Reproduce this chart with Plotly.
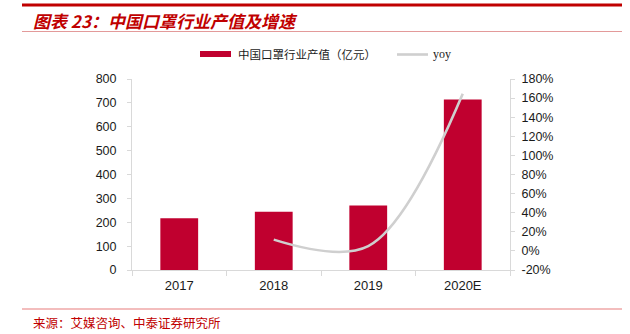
import plotly.graph_objects as go

categories = ["2017", "2018", "2019", "2020E"]
output_value = [217, 244, 270, 714]          # 中国口罩行业产值（亿元）
yoy_years = ["2018", "2019", "2020E"]
yoy = [0.118, 0.05, 1.645]
left_ticks = [0, 100, 200, 300, 400, 500, 600, 700, 800]
right_ticks = [-0.2, 0, 0.2, 0.4, 0.6, 0.8, 1.0, 1.2, 1.4, 1.6, 1.8]
right_labels = ["-20%", "0%", "20%", "40%", "60%", "80%", "100%", "120%", "140%", "160%", "180%"]

BAR = "#C0002F"
LINE = "#CFCFCF"
AX = "#D9D9D9"
TXT = "#1a1a1a"
CJK = "Noto Sans CJK SC"
LAT = "Liberation Sans, Arial"

fig = go.Figure()
fig.add_trace(go.Bar(x=categories, y=output_value, marker=dict(color=BAR, line=dict(width=0)),
                     width=0.4, name="中国口罩行业产值（亿元）", showlegend=False))
fig.add_trace(go.Scatter(x=yoy_years, y=yoy, mode="lines", yaxis="y2",
                         line=dict(color=LINE, width=2.6, shape="spline", smoothing=1.0),
                         name="yoy", showlegend=False))

fig.update_layout(
    width=630, height=334,
    margin=dict(l=132, r=120, t=79, b=64),
    paper_bgcolor="white", plot_bgcolor="white",
    xaxis=dict(type="category", categoryorder="array", categoryarray=categories,
               showline=True, linecolor=AX, linewidth=1,
               ticks="outside", tickson="boundaries", ticklen=5, tickcolor=AX,
               tickfont=dict(family=LAT, size=13, color=TXT), showgrid=False, zeroline=False,
               ticklabelstandoff=3),
    yaxis=dict(range=[0, 800], tickvals=left_ticks, showline=True, linecolor=AX, linewidth=1,
               ticks="outside", ticklen=4, tickcolor=AX, showgrid=False, zeroline=False,
               tickfont=dict(family=LAT, size=12.5, color=TXT), ticklabelstandoff=8),
    yaxis2=dict(range=[-0.2, 1.8], tickvals=right_ticks, ticktext=right_labels, overlaying="y",
                side="right", showline=True, linecolor=AX, linewidth=1,
                ticks="outside", ticklen=4, tickcolor=AX, showgrid=False, zeroline=False,
                tickfont=dict(family=LAT, size=12.5, color=TXT), ticklabelstandoff=4),
    bargap=0.6,
)

shapes = [
    dict(type="line", xref="paper", yref="paper", x0=-110/378, x1=490/378,
         y0=1 + (79 - 5) / 191, y1=1 + (79 - 5) / 191, line=dict(color="#C00000", width=3)),
    dict(type="line", xref="paper", yref="paper", x0=-110/378, x1=490/378,
         y0=1 + (79 - 31.5) / 191, y1=1 + (79 - 31.5) / 191, line=dict(color="#E39A9A", width=1)),
    dict(type="line", xref="paper", yref="paper", x0=-110/378, x1=490/378,
         y0=-(309 - 270) / 191, y1=-(309 - 270) / 191, line=dict(color="#F3BDBD", width=2)),
    # legend keys
    dict(type="rect", xref="paper", yref="paper", x0=(200 - 132) / 378, x1=(231 - 132) / 378,
         y0=1 + (79 - 57) / 191, y1=1 + (79 - 51) / 191, fillcolor=BAR, line=dict(width=0)),
    dict(type="line", xref="paper", yref="paper", x0=(397 - 132) / 378, x1=(428 - 132) / 378,
         y0=1 + (79 - 54.5) / 191, y1=1 + (79 - 54.5) / 191, line=dict(color=LINE, width=2.6)),
]

annotations = [
    dict(text="<b><i>图表 23：中国口罩行业产值及增速</i></b>", xref="paper", yref="paper",
         x=(31 - 132) / 378, y=1 + (79 - 20) / 191, xanchor="left", yanchor="middle",
         showarrow=False, font=dict(family=CJK, size=17, color="#C00000")),
    dict(text="中国口罩行业产值（亿元）", xref="paper", yref="paper",
         x=(236 - 132) / 378, y=1 + (79 - 54) / 191, xanchor="left", yanchor="middle",
         showarrow=False, font=dict(family=CJK, size=11.5, color=TXT)),
    dict(text="yoy", xref="paper", yref="paper",
         x=(431 - 132) / 378, y=1 + (79 - 54) / 191, xanchor="left", yanchor="middle",
         showarrow=False, font=dict(family="Liberation Serif, Times New Roman", size=12, color=TXT)),
    dict(text="来源：艾媒咨询、中泰证券研究所", xref="paper", yref="paper",
         x=(31 - 132) / 378, y=-(322 - 270) / 191, xanchor="left", yanchor="middle",
         showarrow=False, font=dict(family=CJK, size=12.5, color="#C00000")),
]

fig.update_layout(shapes=shapes, annotations=annotations)
fig.write_html("out.html")
